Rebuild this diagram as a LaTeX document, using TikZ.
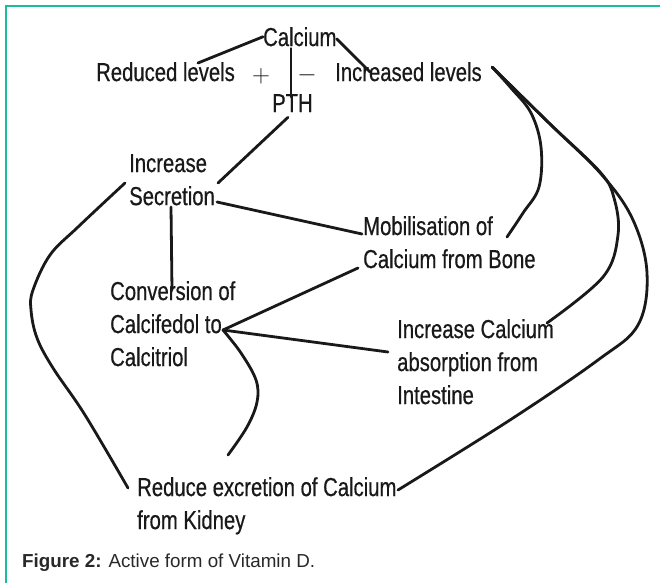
\documentclass[tikz,border=0pt]{standalone}
\usepackage{fontspec}
\setmainfont{Liberation Sans}
\newfontfamily\labfont[FakeStretch=0.78,FakeBold=0.5]{Liberation Sans}
\usetikzlibrary{calc}
\definecolor{frameteal}{RGB}{26,188,156}
\definecolor{ink}{RGB}{25,25,25}
\definecolor{captext}{RGB}{40,40,40}
\begin{document}
\begin{tikzpicture}[x=1pt,y=-1pt,
  lab/.style={font=\labfont\fontsize{26}{33}\selectfont, align=left, anchor=north west, inner sep=0pt, text=ink},
  sym/.style={font=\fontsize{28}{28}\selectfont, inner sep=0pt, text=ink},
  link/.style={line width=2.8pt, draw=ink, line cap=round, line join=round},
  curve/.style={link, smooth, tension=0.6},
]
\useasboundingbox (0,0) rectangle (660,583);
\fill[white] (0,0) rectangle (660,583);
\draw[frameteal, line width=2pt] (6,583) -- (6,6) -- (660,6);

% labels
\node[lab] (calcium)   at (263,27)  {Calcium};
\node[lab] (reduced)   at (96,62)   {Reduced levels};
\node[lab] (increased) at (335,62)  {Increased levels};
\node[lab] (pth)       at (272,94)  {PTH};
\node[sym] (plus)      at (261,76)  {$+$};
\node[sym] (minus)     at (307,75)  {$-$};
\node[lab] (secretion) at (129,154) {Increase\\Secretion};
\node[lab] (bone)      at (363,216) {Mobilisation of\\Calcium from Bone};
\node[lab] (conv)      at (110,281) {Conversion of\\Calcifedol to\\Calcitriol};
\node[lab] (intest)    at (397,319) {Increase Calcium\\absorption from\\Intestine};
\node[lab] (kidney)    at (137,477) {Reduce excretion of Calcium\\from Kidney};
\node[anchor=west, inner sep=0pt, text=captext, font=\fontsize{18.8}{22}\selectfont] (caption) at (22,563)
  {\textbf{Figure 2:} Active form of Vitamin D.};

% connector end points
\coordinate (hub) at ($(conv.north west)+(113,49)$);
\coordinate (hi)  at ($(increased.north west)+(157,5)$);

% straight connectors
\draw[link] (calcium.west) -- ($(reduced.north west)+(102,1)$);
\draw[link] ($(calcium.east)+(0,2)$) -- ($(increased.north west)+(35,10)$);
\draw[link] ($(calcium.south west)+(28,2)$) -- ($(pth.north west)+(19,3)$);
\draw[link] ($(pth.south west)+(16,5)$) -- ($(secretion.north west)+(89,29)$);
\draw[link] ($(secretion.north west)+(88,48)$) -- ($(bone.north west)+(-1,18)$);
\draw[link] ($(secretion.north west)+(42,53)$) -- ($(conv.north west)+(62,9)$);
\draw[link] (hub) -- ($(bone.north west)+(-5,52)$);
\draw[link] (hub) -- ($(intest.north west)+(-9,33)$);

% curved connectors
\draw[curve] plot coordinates {($(secretion.north west)+(-4,29)$) (78,227) (50,255) (33,290) (31,310) (37,338) (53,368) (85,415) ($(kidney.north west)+(-9,11)$)};
\draw[curve] plot coordinates {(hub) (241,353) (256,380) (257,402) (247,427) ($(kidney.north west)+(91,-22)$)};
\draw[curve] plot coordinates {(hi) (511,88) (531,113) (541,147) (539,187) (523,213) ($(bone.north west)+(144,21)$)};
\draw[curve] plot coordinates {(hi) (549,123) (600,172) (614,198) (618,235) (603,277) ($(intest.north west)+(150,4)$)};
\draw[curve] plot coordinates {(hi) (550,124) (602,175) (633,220) (647,273) (638,325) (598,360) (510,420) ($(kidney.north west)+(261,13)$)};
\end{tikzpicture}
\end{document}
